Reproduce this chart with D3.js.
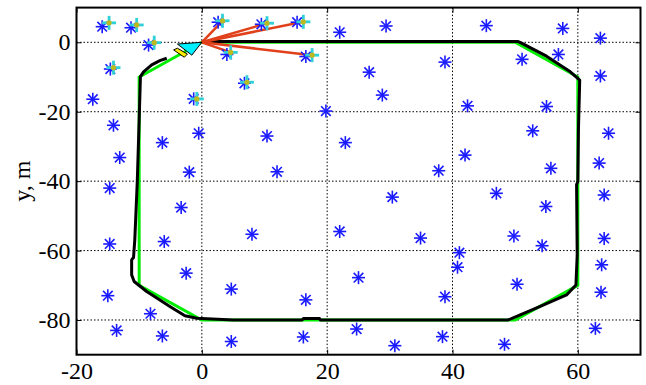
<!DOCTYPE html>
<html>
<head>
<meta charset="utf-8">
<script src="https://cdn.jsdelivr.net/npm/d3@7"></script>
<style>
  body { margin: 0; background: #fff; }
  text { font-family: "Liberation Serif", "Times New Roman", serif; }
</style>
</head>
<body>
<div id="target_area"></div>
<script>
// true landmark positions (blue asterisks)
var landX = [-15.9, -11.3, -8.5, -14.6, -17.4, -1.3, -14.1, -6.3, -0.5, -13.1, -2.0, -14.7, -3.3, -14.7, -6.0, -2.5, -15.0, -8.2, -13.6, -6.3,
  2.6, 4.0, 6.8, 9.5, 15.2, 16.6, 10.4, 12.0, 8.0, 4.7, 4.7, 16.6, 16.2, 19.8, 22.0, 22.9, 22.0, 25.0, 24.7, 26.7,
  28.8, 29.4, 30.4, 30.8, 34.9, 38.8, 37.8, 38.8, 41.1, 40.8, 42.0, 42.4, 45.4, 51.1, 56.9, 55.0, 57.6, 63.6, 63.6, 52.8,
  55.7, 47.0, 54.9, 49.8, 54.3, 64.9, 63.4, 64.2, 64.2, 63.8, 63.7, 62.8, 38.4, 48.3, 50.3];
var landY = [4.5, 4.2, -0.8, -7.7, -16.4, -16.3, -23.9, -28.9, -26.2, -33.2, -37.4, -42.0, -47.6, -58.1, -57.4, -66.5, -73.0, -78.2, -83.0, -84.6,
  5.8, -3.5, -11.8, 5.2, 5.8, -4.1, -27.0, -37.3, -55.3, -71.1, -86.2, -74.2, -84.9, -19.8, 2.9, -28.9, -54.5, -67.8, -82.6, -8.6,
  -15.2, 4.7, -44.6, -87.4, -56.4, -5.7, -37.0, -73.3, -60.6, -64.8, -32.5, -18.3, 4.8, -4.9, -3.5, -18.5, 4.0, 1.2, -9.7, -25.5,
  -36.3, -43.5, -47.3, -55.8, -58.6, -26.2, -34.8, -44.0, -56.5, -64.1, -72.0, -82.4, -84.8, -87.0, -69.7];

// estimated landmark positions (cyan crosses)
var estX = [-14.8, -10.4, -7.6, -14.1, -0.8, 3.3, 4.6, 7.2, 10.4, 16.2, 17.6];
var estY = [5.6, 5.0, -0.1, -7.3, -16.3, 6.2, -2.9, -11.5, 5.5, 5.9, -3.7];

// currently observed landmarks (index into est arrays)
var observed = [5, 6, 8, 9, 10];

// reference path (green)
var refX = [0, 50, 60, 60, 50, 0, -10, -10, 0];
var refY = [0, 0, -10, -70, -80, -80, -70, -10, 0];

// estimated path (black)
var pathX = [0, 50.5, 51.1, 55, 58.8, 60.3, 60.1, 60.0, 59.8, 59.9, 59.7, 58.2, 54.0, 50.8, 48.9, 30, 18.9, 18.8, 16.2, 16.0, 5, -0.8,
  -2.7, -5.1, -8.8, -10.8, -11.2, -11.2, -10.9, -10.7, -10.3, -10.0, -9.8, -9.3, -8.0, -6.7, -5.6];
var pathY = [0.2, 0.2, -0.3, -4.0, -8.5, -10.9, -25, -40.1, -41.0, -61.2, -69.9, -72.8, -76.1, -78.5, -80, -80, -80, -79.6, -79.6, -80, -80, -79.5,
  -78.8, -76.1, -71.8, -68.9, -67.0, -62.7, -62.0, -57.0, -40.1, -22.4, -9.9, -8.5, -6.5, -5.3, -4.6];

// robot body and wheel outline
var robotX = [0, -3.9, -1.6];
var robotY = [0, -0.5, -3.7];
var wheelX = [-4.5, -3.9, -2.3, -2.8];
var wheelY = [-2.2, -1.7, -3.4, -4.3];

var xTicks = [-20, 0, 20, 40, 60];
var yTicks = [-80, -60, -40, -20, 0];

var W = 646, H = 385;
var margin = {top: 7.6, right: 5.5, bottom: 30.3, left: 76.5};
var width = W - margin.left - margin.right,
    height = H - margin.top - margin.bottom;

var x = d3.scaleLinear().domain([-20, 70]).range([0, width]);
var y = d3.scaleLinear().domain([-90, 10]).range([height, 0]);

var svg = d3.select("#target_area").append("svg")
  .attr("width", W).attr("height", H)
  .append("g")
  .attr("transform", "translate(" + margin.left + "," + margin.top + ")");

// grid
svg.append("g").selectAll("line").data(xTicks.filter(function(d) { return d > -20; }))
  .enter().append("line")
  .attr("x1", function(d) { return x(d); }).attr("x2", function(d) { return x(d); })
  .attr("y1", 0).attr("y2", height)
  .attr("stroke", "#000").attr("stroke-width", 1).attr("stroke-dasharray", "1.5,2");
svg.append("g").selectAll("line").data(yTicks)
  .enter().append("line")
  .attr("y1", function(d) { return y(d); }).attr("y2", function(d) { return y(d); })
  .attr("x1", 0).attr("x2", width)
  .attr("stroke", "#000").attr("stroke-width", 1).attr("stroke-dasharray", "1.5,2");

var line = d3.line().x(function(d) { return x(d[0]); }).y(function(d) { return y(d[1]); });

svg.append("path")
  .attr("d", line(d3.zip(refX, refY)))
  .attr("fill", "none").attr("stroke", "#00ee00").attr("stroke-width", 3);

svg.append("path")
  .attr("d", line(d3.zip(pathX, pathY)))
  .attr("fill", "none").attr("stroke", "#000").attr("stroke-width", 3)
  .attr("stroke-linejoin", "round");

// observation rays
svg.append("g").selectAll("line").data(observed)
  .enter().append("line")
  .attr("x1", x(0)).attr("y1", y(0))
  .attr("x2", function(i) { return x(estX[i]); })
  .attr("y2", function(i) { return y(estY[i]); })
  .attr("stroke", "#e0401a").attr("stroke-width", 2.5);

// landmarks as asterisks
var r = 6.5, rd = 4.8;
var star = svg.append("g").selectAll("g").data(d3.zip(landX, landY))
  .enter().append("g")
  .attr("transform", function(d) { return "translate(" + x(d[0]) + "," + y(d[1]) + ")"; })
  .attr("stroke", "#1a1aff").attr("stroke-width", 1.6);
star.append("line").attr("x1", -r).attr("x2", r).attr("y1", 0).attr("y2", 0);
star.append("line").attr("y1", -r).attr("y2", r).attr("x1", 0).attr("x2", 0);
star.append("line").attr("x1", -rd).attr("x2", rd).attr("y1", -rd).attr("y2", rd);
star.append("line").attr("x1", -rd).attr("x2", rd).attr("y1", rd).attr("y2", -rd);

// estimated landmarks
var est = svg.append("g").selectAll("g").data(d3.zip(estX, estY))
  .enter().append("g")
  .attr("transform", function(d) { return "translate(" + x(d[0]) + "," + y(d[1]) + ")"; });
est.append("line").attr("x1", -7).attr("x2", 7).attr("y1", 0).attr("y2", 0)
  .attr("stroke", "#2fd0d8").attr("stroke-width", 2.8);
est.append("line").attr("y1", -7).attr("y2", 7).attr("x1", 0).attr("x2", 0)
  .attr("stroke", "#2fd0d8").attr("stroke-width", 2.8);
est.append("circle").attr("r", 2.6).attr("fill", "#c0b820");

// robot
svg.append("path")
  .attr("d", line(d3.zip(wheelX, wheelY)) + "Z")
  .attr("fill", "#ffee00").attr("stroke", "#000").attr("stroke-width", 1);
svg.append("path")
  .attr("d", line(d3.zip(robotX, robotY)) + "Z")
  .attr("fill", "#00f0ff").attr("stroke", "#000").attr("stroke-width", 1);

// axes (ticks inward)
var fmt = function(d) { return String(d); };
var none = function() { return ""; };
svg.append("g").attr("class", "lab").attr("transform", "translate(0," + height + ")")
  .call(d3.axisBottom(x).tickValues(xTicks).tickSizeInner(-5).tickSizeOuter(0).tickPadding(7).tickFormat(fmt));
svg.append("g").attr("class", "lab")
  .call(d3.axisLeft(y).tickValues(yTicks).tickSizeInner(-5).tickSizeOuter(0).tickPadding(6).tickFormat(fmt));
svg.append("g")
  .call(d3.axisTop(x).tickValues(xTicks).tickSizeInner(-5).tickSizeOuter(0).tickFormat(none));
svg.append("g").attr("transform", "translate(" + width + ",0)")
  .call(d3.axisRight(y).tickValues(yTicks).tickSizeInner(-5).tickSizeOuter(0).tickFormat(none));
svg.selectAll(".domain").remove();
svg.selectAll(".tick line").attr("stroke", "#000").attr("stroke-width", 1);
svg.selectAll(".lab")
  .attr("font-family", "Liberation Serif, serif")
  .attr("font-size", 24);
svg.selectAll(".lab .tick text")
  .style("font-size", "24px")
  .style("font-family", "'Liberation Serif', serif")
  .style("fill", "#000");

svg.append("rect")
  .attr("x", 0).attr("y", 0).attr("width", width).attr("height", height)
  .attr("fill", "none").attr("stroke", "#000").attr("stroke-width", 2);

svg.append("text")
  .attr("transform", "translate(" + (23 - margin.left) + "," + (height / 2) + ") rotate(-90)")
  .attr("text-anchor", "middle").attr("dy", "0.3em")
  .style("font-size", "24px")
  .text("y, m");
</script>
</body>
</html>
